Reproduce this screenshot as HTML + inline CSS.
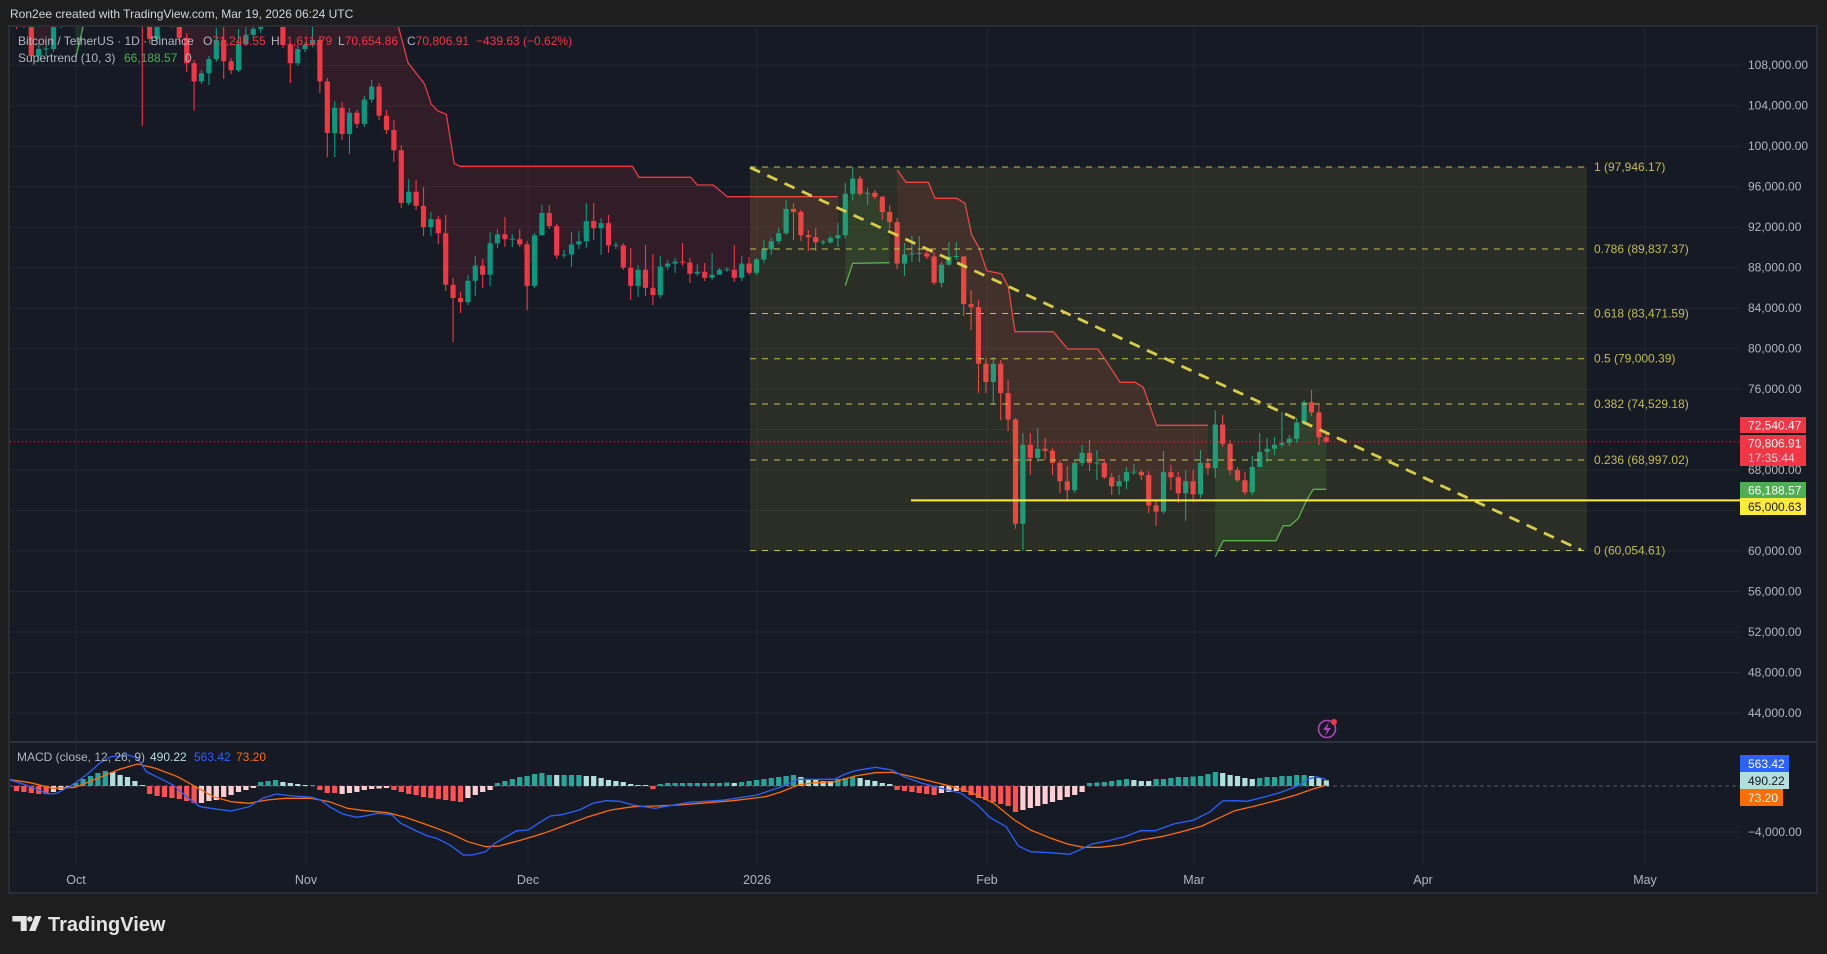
<!DOCTYPE html>
<html><head><meta charset="utf-8">
<style>
html,body{margin:0;padding:0;background:#1e1e1e;}
body{width:1827px;height:954px;overflow:hidden;}
svg{display:block;font-family:"Liberation Sans",sans-serif;}
</style></head><body>
<svg width="1827" height="954" viewBox="0 0 1827 954" xmlns="http://www.w3.org/2000/svg">
<defs>
<clipPath id="cm"><rect x="10" y="27" width="1730" height="715"/></clipPath>
<clipPath id="cd"><rect x="10" y="743" width="1730" height="121"/></clipPath>
</defs>
<rect width="1827" height="954" fill="#1e1e1e"/>
<rect x="9" y="26" width="1808" height="867" fill="#161a25" stroke="#2f323b" stroke-width="1.5"/>
<path stroke="#232733" stroke-width="1" fill="none" d="M10 65.2H1740M10 105.7H1740M10 146.2H1740M10 186.7H1740M10 227.1H1740M10 267.6H1740M10 308.1H1740M10 348.6H1740M10 389.1H1740M10 429.6H1740M10 470.1H1740M10 510.6H1740M10 551H1740M10 591.5H1740M10 632H1740M10 672.5H1740M10 713H1740M10 832H1740M76 27V864M306 27V864M528 27V864M757 27V864M987 27V864M1194 27V864M1423 27V864M1645 27V864"/>
<line x1="9" y1="742" x2="1817" y2="742" stroke="#2e323d" stroke-width="2"/>

<g clip-path="url(#cm)">
<!-- supertrend fills -->
<g fill="rgba(242,54,69,0.12)">
<polygon points="16.5,-100 68.3,-100 68.3,3 60.9,12.6 53.5,36.4 46.1,49 38.7,52.6 31.3,33.9 23.9,18.2 16.5,21.2"/>
<polygon points="142.3,-100 379.1,-100 386.5,-20 398.7,27.7 408,62.7 424.7,84.3 431.3,104.3 438,111 446.3,114.3 454.3,163.5 460,166.3 632.3,166.3 639,177.3 690.7,177.3 697.3,185 713.3,185 727.3,196.7 837.9,196.7 837.9,236.8 830.5,240.3 823.1,242.3 815.7,239.8 808.3,236.3 800.9,223.6 793.5,210.5 786.1,221.1 778.7,237.3 771.3,245.4 763.9,254.5 756.5,266.1 749.1,268.2 741.7,270.7 734.3,273.8 726.9,269.7 719.5,272.2 712.1,276.3 704.7,274.8 697.3,272.7 689.9,268.2 682.5,262.1 675.1,262.6 667.7,265.1 660.3,280.8 652.9,291.5 645.5,278.8 638.1,277.8 630.7,276.8 623.3,256.5 615.9,245.4 608.5,234.3 601.1,225.7 593.7,224.7 586.3,231.2 578.9,242.9 571.5,249.5 564.1,255 556.7,240.8 549.3,219.6 541.9,224.1 534.5,260.6 527.1,265.2 519.7,241.9 512.3,239.3 504.9,236.8 497.5,238.8 490.1,259 482.7,270.2 475.3,273.2 467.9,291.5 460.5,300.1 453.1,291.4 445.7,259 438.3,226.2 430.9,223.1 423.5,216.5 416.1,198.8 408.7,197.3 401.3,176.6 393.9,140.1 386.5,122.9 379.1,101.2 371.7,93.1 364.3,111.8 356.9,118.4 349.5,123.4 342.1,120.9 334.7,120.4 327.3,107.2 319.9,60.7 312.5,42.5 305.1,47 297.7,56.1 290.3,54.1 282.9,30.3 275.5,9.5 268.1,1.4 260.7,14.1 253.3,31.8 245.9,39.4 238.5,57.1 231.1,65.8 223.7,50.6 216.3,49.5 208.9,66.2 201.5,77.4 194.1,72.3 186.7,50.6 179.3,26.3 171.9,3 164.5,-8.2 157.1,15.6 149.7,25.8 142.3,-30.5"/>
<polygon points="897.1,170 906,182.3 928.3,182.3 935,198.3 956.7,198.3 965,203.3 971.7,235 979.3,248.3 986.7,270.7 1001.7,274 1008.3,286.7 1015,331.7 1053.3,331.7 1067.7,349 1097.7,349 1106.7,361.7 1120,382.3 1135,382.3 1143.3,387.3 1156.7,425.3 1207.9,425.3 1207.9,465.6 1200.5,478.7 1193.1,487.8 1185.7,487.3 1178.3,485.3 1170.9,474.7 1163.5,491.9 1156.1,508.6 1148.7,490.3 1141.3,473.6 1133.9,472.1 1126.5,476.7 1119.1,483.8 1111.7,481.8 1104.3,470.1 1096.9,463 1089.5,458 1082.1,458 1074.7,476.7 1067.3,485.8 1059.9,472.1 1052.5,456.9 1045.1,449.8 1037.7,453.4 1030.3,451.4 1022.9,484.3 1015.5,471.6 1008.1,406.3 1000.7,378.5 993.3,372.9 985.9,372.9 978.5,335.5 971.1,305.6 963.7,280.3 956.3,256.5 948.9,260.6 941.5,273.7 934.1,269.7 926.7,255 919.3,253.5 911.9,254 904.5,259.1 897.1,242.9"/>
</g>
<g fill="rgba(76,175,80,0.14)">
<polygon points="75.7,58 83.1,27 90.5,-10 134.9,-40 134.9,-60 75.7,-19"/>
<polygon points="845.3,285.7 852.7,263.3 889.7,262.7 889.7,217.1 882.3,204.4 874.9,194.8 867.5,193.2 860.1,186.2 852.7,186.2 845.3,214.5"/>
<polygon points="1215.3,556.7 1223.3,540.7 1276,540.7 1283.3,525.7 1290,525.7 1298.3,518.3 1306.7,500 1313.3,489.3 1326.3,489.3 1326.3,439.5 1318.9,424.8 1311.5,407.4 1304.1,412.4 1296.7,430.6 1289.3,440.7 1281.9,443.8 1274.5,446.8 1267.1,450.4 1259.7,459.5 1252.3,479.7 1244.9,486.3 1237.5,475.2 1230.1,457 1222.7,434.2 1215.3,446.3"/>
</g>

<!-- candles -->
<path fill="none" stroke="#089981" stroke-width="1.1" d="M23.9 0V28M38.7 44V62M46.1 44V56M53.5 18V52M60.9 0V28M157.1 0V42M201.5 70V84M208.9 56V85M216.3 28V62M238.5 29V72M245.9 26V46M253.3 24V38M260.7 0V33M297.7 45V66M305.1 42V52M312.5 26V47M334.7 101V157M349.5 108V154M364.3 96V127M371.7 80V103M408.7 179V205M430.9 212V236M467.9 275V305M475.3 256V296M490.1 232V286M497.5 229V248M512.3 234V247M534.5 233V288M541.9 205V235M564.1 250V258M571.5 232V267M578.9 231V249M586.3 203V248M601.1 218V255M615.9 242V249M638.1 265V297M660.3 256V298M667.7 260V270M675.1 258V273M697.3 264V276M712.1 253V280M719.5 268V274M726.9 267V272M741.7 256V281M756.5 258V275M763.9 240V263M771.3 238V255M778.7 228V244M786.1 200V235M823.1 240V245M830.5 236V244M837.9 223V247M845.3 183V238M852.7 167V200M867.5 188V205M904.5 243V276M911.9 236V262M919.3 236V262M941.5 262V287M948.9 242V266M956.3 242V260M993.3 357V405M1022.9 433V550.5M1037.7 428V462M1074.7 460V493M1082.1 445V466M1096.9 450V480M1119.1 475V495M1126.5 467V489M1133.9 464V475M1163.5 451V514M1185.7 470V520.7M1200.5 450V498M1215.3 410.4V478M1252.3 456V495M1259.7 433V467M1267.1 438V462M1274.5 437V455M1281.9 412V447M1289.3 435V446M1296.7 418V443M1304.1 400V425"/>
<path fill="none" stroke="#f23645" stroke-width="1.1" d="M16.5 10V29M31.3 0V60M142.3 0V125.9M149.7 0V44M171.9 0V28M179.3 10V42M186.7 33V72M194.1 60V110.7M223.7 14V79M231.1 58V74M275.5 0V26M282.9 5V48M290.3 42V83M319.9 36V93M327.3 78V157.3M342.1 102V140M356.9 110V128M379.1 83V120M386.5 110V134M393.9 120V162M401.3 145V208M416.1 180V210M423.5 187V236M438.3 216V244M445.7 215V291M453.1 278V342.5M460.5 292V313M482.7 259V288M504.9 217V247M519.7 229V247M527.1 241V310.2M549.3 205V229M556.7 224V259M593.7 203V240M608.5 215V253M623.3 243V270M630.7 248V300M645.5 245V296M652.9 254V305M682.5 243V266M689.9 258V283M704.7 263V281M734.3 245V282M749.1 257V275M793.5 203V240M800.9 210V241M808.3 230V251M815.7 228V251M860.1 176V196M874.9 190V199M882.3 196V220M889.7 205V229M897.1 218V269M926.7 249V259M934.1 252V285M963.7 256V316M971.1 290V330M978.5 300V393M985.9 358V393M1000.7 360V420M1008.1 380V431M1015.5 418V528.8M1030.3 433V475M1045.1 438V460M1052.5 448V475M1059.9 460V493M1067.3 466V502M1089.5 440V471M1104.3 459V479M1111.7 473V495M1141.3 470V480M1148.7 471V513M1156.1 500V525.7M1170.9 465V490M1178.3 472V503M1193.1 470V502M1207.9 458V475M1222.7 415V447M1230.1 440V475M1237.5 467V482M1244.9 472V495M1311.5 390.1V416M1318.9 405V445M1326.3 433.5V443.2"/>
<path fill="none" stroke="#089981" stroke-width="5.2" d="M23.9 11.6V24.7M38.7 49V56.1M46.1 48.5V49.5M53.5 23.7V49M60.9 1.4V23.7M157.1 -8V38.9M201.5 73.3V81.4M208.9 59.1V73.3M216.3 39.9V59.1M238.5 43.9V70.3M245.9 34.8V43.9M253.3 28.8V34.8M260.7 -1V28.8M297.7 49V63.2M305.1 45V49M312.5 39.9V45M334.7 107.7V133M349.5 112.8V134M364.3 99.6V123.9M371.7 86.5V99.6M408.7 191.7V202.9M430.9 219.1V227.1M467.9 280.8V302.1M475.3 265.6V280.8M490.1 243.3V274.7M497.5 234.2V243.3M512.3 238.8V239.8M534.5 235.2V285.9M541.9 213V235.2M564.1 254.5V255.5M571.5 244.4V254.5M578.9 241.3V244.4M586.3 221.1V241.3M601.1 223.1V228.2M615.9 244.9V245.9M638.1 269.7V285.9M660.3 266.6V295M667.7 263.6V266.6M675.1 261.6V263.6M697.3 271.7V273.7M712.1 274.7V277.8M719.5 269.7V274.7M726.9 269.2V270.2M741.7 263.6V277.8M756.5 259.5V272.7M763.9 249.4V259.5M771.3 241.3V249.4M778.7 233.2V241.3M786.1 208.9V233.2M823.1 241.8V242.8M830.5 238.3V242.3M837.9 235.2V238.3M845.3 193.7V235.2M852.7 178.6V193.7M867.5 192.7V193.7M904.5 254.5V263.6M911.9 253.5V254.5M919.3 253V254M941.5 264.6V282.8M948.9 256.5V264.6M956.3 256V257M993.3 363.8V382M1022.9 444.8V523.7M1037.7 448.8V457.9M1074.7 463V490.3M1082.1 452.9V463M1096.9 462.5V463.5M1119.1 481.2V486.3M1126.5 472.1V481.2M1133.9 471.6V472.6M1163.5 472.1V511.6M1185.7 481.2V493.4M1200.5 463V494.4M1215.3 424.5V468.1M1252.3 467V492.3M1259.7 451.9V467M1267.1 448.8V451.9M1274.5 444.8V448.8M1281.9 442.7V444.8M1289.3 438.7V442.7M1296.7 422.5V438.7M1304.1 402.3V422.5"/>
<path fill="none" stroke="#f23645" stroke-width="5.2" d="M16.5 17.6V24.7M31.3 11.6V56.1M149.7 12.6V38.9M171.9 -9V14.6M179.3 14.6V37.9M186.7 37.9V63.2M194.1 63.2V81.4M223.7 39.9V61.2M231.1 61.2V70.3M275.5 -1V15.6M282.9 15.6V45M290.3 45V63.2M319.9 39.9V81.4M327.3 81.4V133M342.1 107.7V134M356.9 112.8V123.9M379.1 86.5V115.8M386.5 115.8V130M393.9 130V150.2M401.3 150.2V202.9M416.1 191.7V205.9M423.5 205.9V227.1M438.3 219.1V233.2M445.7 233.2V284.8M453.1 284.8V298M460.5 298V302.1M482.7 265.6V274.7M504.9 234.2V239.3M519.7 239.3V244.4M527.1 244.4V285.9M549.3 213V226.1M556.7 226.1V255.5M593.7 221.1V228.2M608.5 223.1V245.4M623.3 245.4V267.6M630.7 267.6V285.9M645.5 269.7V287.9M652.9 287.9V295M682.5 261.6V262.6M689.9 262.6V273.7M704.7 271.7V277.8M734.3 269.7V277.8M749.1 263.6V272.7M793.5 208.9V212M800.9 212V235.2M808.3 235.2V237.3M815.7 237.3V242.3M860.1 178.6V193.7M874.9 192.7V196.8M882.3 196.8V212M889.7 212V222.1M897.1 222.1V263.6M926.7 253.5V256.5M934.1 256.5V282.8M963.7 256.5V304.1M971.1 304.1V307.1M978.5 307.1V363.8M985.9 363.8V382M1000.7 363.8V393.1M1008.1 393.1V419.5M1015.5 419.5V523.7M1030.3 444.8V457.9M1045.1 448.8V450.8M1052.5 450.8V463M1059.9 463V481.2M1067.3 481.2V490.3M1089.5 452.9V463M1104.3 463V477.2M1111.7 477.2V486.3M1141.3 472.1V475.1M1148.7 475.1V505.5M1156.1 505.5V511.6M1170.9 472.1V477.2M1178.3 477.2V493.4M1193.1 481.2V494.4M1207.9 463V468.1M1222.7 424.5V443.8M1230.1 443.8V470.1M1237.5 470.1V480.2M1244.9 480.2V492.3M1311.5 402.3V412.4M1318.9 412.4V437.2M1326.3 437.2V441.7"/>

<!-- supertrend lines -->
<g fill="none" stroke-width="1.3">
<polyline stroke="#4caf50" points="75.7,58 83.1,27 90.5,-10"/>
<polyline stroke="#f23645" points="386.5,-20 398.7,27.7 408,62.7 424.7,84.3 431.3,104.3 438,111 446.3,114.3 454.3,163.5 460,166.3 632.3,166.3 639,177.3 690.7,177.3 697.3,185 713.3,185 727.3,196.7 837.9,196.7"/>
<polyline stroke="#4caf50" points="845.3,285.7 852.7,263.3 889.7,262.7"/>
<polyline stroke="#f23645" points="897.1,170 906,182.3 928.3,182.3 935,198.3 956.7,198.3 965,203.3 971.7,235 979.3,248.3 986.7,270.7 1001.7,274 1008.3,286.7 1015,331.7 1053.3,331.7 1067.7,349 1097.7,349 1106.7,361.7 1120,382.3 1135,382.3 1143.3,387.3 1156.7,425.3 1207.9,425.3"/>
<polyline stroke="#4caf50" points="1215.3,556.7 1223.3,540.7 1276,540.7 1283.3,525.7 1290,525.7 1298.3,518.3 1306.7,500 1313.3,489.3 1326.3,489.3"/>
</g>

<!-- fib -->
<rect x="750" y="167" width="837" height="383.5" fill="rgba(200,190,60,0.12)"/>
<g stroke="#c5bf4e" stroke-width="1" stroke-dasharray="6 6">
  <line x1="750" x2="1587" y1="167" y2="167"/>
  <line x1="750" x2="1587" y1="249" y2="249"/>
  <line x1="750" x2="1587" y1="313.5" y2="313.5"/>
  <line x1="750" x2="1587" y1="358.7" y2="358.7"/>
  <line x1="750" x2="1587" y1="404" y2="404"/>
  <line x1="750" x2="1587" y1="460" y2="460"/>
  <line x1="750" x2="1587" y1="550.5" y2="550.5"/>
</g>
<line x1="750" y1="167.5" x2="1581" y2="550" stroke="#d9cd47" stroke-width="2.8" stroke-dasharray="11 8"/>
<line x1="911" y1="500.4" x2="1740" y2="500.4" stroke="#ffeb3b" stroke-width="2"/>
<line x1="10" y1="441.7" x2="1740" y2="441.7" stroke="#f23645" stroke-width="1" stroke-dasharray="1 3"/>
</g>

<!-- MACD -->
<line x1="10" y1="786" x2="1740" y2="786" stroke="#787b86" stroke-width="1" stroke-dasharray="4 3" opacity="0.7"/>
<g clip-path="url(#cd)" fill="none">
<path stroke="#26a69a" stroke-width="5.2" d="M75.7 786V783M83.1 786V779M90.5 786V776M97.9 786V773M105.3 786V771M260.7 786V782M268.1 786V781M275.5 786V780M497.5 786V783M504.9 786V781M512.3 786V779M519.7 786V777M527.1 786V776M534.5 786V774M541.9 786V773M549.3 786V775M564.1 786V775M571.5 786V775M578.9 786V775M660.3 786V784M667.7 786V783M675.1 786V783M682.5 786V783M689.9 786V783M697.3 786V783M704.7 786V783M712.1 786V783M719.5 786V783M726.9 786V782.5M741.7 786V782M749.1 786V781M756.5 786V780M763.9 786V779M771.3 786V778M778.7 786V777M786.1 786V776M793.5 786V775M837.9 786V779M845.3 786V778M852.7 786V777M1089.5 786V783M1096.9 786V782.5M1104.3 786V782M1111.7 786V781M1119.1 786V780M1126.5 786V779M1156.1 786V779M1163.5 786V779M1170.9 786V778M1178.3 786V777M1185.7 786V777M1193.1 786V776.5M1200.5 786V776M1207.9 786V774M1215.3 786V772M1259.7 786V778M1267.1 786V777M1274.5 786V777M1281.9 786V776M1289.3 786V776M1296.7 786V775M1304.1 786V775"/>
<path stroke="#b2dfdb" stroke-width="5.2" d="M112.7 786V772M120.1 786V775M127.5 786V777M134.9 786V781M142.3 786V785M282.9 786V782M290.3 786V783M297.7 786V784M305.1 786V785M312.5 786V785.5M556.7 786V775M586.3 786V776M593.7 786V776M601.1 786V778M608.5 786V780M615.9 786V781M623.3 786V782M630.7 786V784M638.1 786V785M645.5 786V785M734.3 786V783M800.9 786V777M808.3 786V779M815.7 786V780M823.1 786V781M830.5 786V781M860.1 786V778M867.5 786V780M874.9 786V781M882.3 786V783M889.7 786V784M1133.9 786V780M1141.3 786V781M1148.7 786V781M1222.7 786V773M1230.1 786V775M1237.5 786V776M1244.9 786V778M1252.3 786V779M1311.5 786V776M1318.9 786V778M1326.3 786V780.4"/>
<path stroke="#ff5252" stroke-width="5.2" d="M16.5 786V791M23.9 786V792M31.3 786V793M38.7 786V794M46.1 786V794M149.7 786V794M157.1 786V796M164.5 786V797M171.9 786V798M179.3 786V799M186.7 786V801M194.1 786V803M319.9 786V790M327.3 786V793M334.7 786V793M393.9 786V790M401.3 786V792M408.7 786V794M416.1 786V795M423.5 786V797M430.9 786V798M438.3 786V799M445.7 786V800M453.1 786V801M460.5 786V802M652.9 786V789M897.1 786V790M904.5 786V791M911.9 786V792M919.3 786V793M926.7 786V794M934.1 786V795M963.7 786V792M971.1 786V795M978.5 786V798M985.9 786V800M993.3 786V802M1000.7 786V804M1008.1 786V806M1015.5 786V812"/>
<path stroke="#ffcdd2" stroke-width="5.2" d="M53.5 786V792M60.9 786V790M68.3 786V788M201.5 786V803M208.9 786V801M216.3 786V800M223.7 786V797M231.1 786V795M238.5 786V792M245.9 786V790M253.3 786V788M342.1 786V794M349.5 786V793M356.9 786V792M364.3 786V790M371.7 786V789M379.1 786V788.5M386.5 786V788M467.9 786V798M475.3 786V795M482.7 786V792M490.1 786V790M941.5 786V793M948.9 786V792M956.3 786V791M1022.9 786V810M1030.3 786V808M1037.7 786V806M1045.1 786V804M1052.5 786V802M1059.9 786V800M1067.3 786V797M1074.7 786V795M1082.1 786V792"/>
<polyline stroke="#ff6d00" stroke-width="1.3" points="8,779.3 30.3,782.7 52.6,788.3 75,787.3 97.3,778.3 119.6,769.3 137.5,764 155.3,768.3 177.6,776.7 195.5,786.7 213.4,796.7 231.2,801.7 249.1,803.3 266.9,800 284.8,798.3 311.6,798.3 329.4,801.7 347.3,808.3 365.1,810.7 387.5,812.7 405.3,817.3 427.6,825 450,833.3 467.8,841.7 485.7,846.7 499.1,846 521.4,840 543.7,833.3 566,825 588.4,816.7 610.7,810 633,806.7 655.3,806 677.6,805 700,803.3 732.7,800.7 765.3,796.7 781.6,791.7 798,785 814.3,782.7 834.7,781.7 855.1,776 875.5,772.7 891.8,772.3 912.2,776.7 932.7,781.7 953.1,786.7 973.5,793.3 993.9,803.3 1014.3,820 1030.6,830 1051,838.3 1067.3,844 1083.7,847.3 1100,847.3 1120.4,845 1140.8,840 1161.2,836.7 1181.6,831.7 1202,826 1218.4,818.3 1234.7,810.7 1255.1,806 1275.5,800.7 1295.9,795 1312.2,789.3 1326.3,785.2"/>
<polyline stroke="#2962ff" stroke-width="1.3" points="8,779.3 25.9,785 48.2,794 57.1,793.3 75,783.3 88.4,773.3 99.5,763.3 110.7,756.7 128.5,755 137.5,758.3 146.4,771.7 159.8,778.3 173.2,785 186.6,796.7 200,806.7 217.8,809.3 231.2,811 249.1,806.7 262.5,798.3 275.9,794 293.7,796 311.6,797.3 320.5,800 329.4,806.7 342.8,814 356.2,817.3 365.1,816 378.5,813.3 391.9,815 400.9,823.3 414.3,830 427.6,836 436.6,838.3 450,845 458.9,851.7 463.4,855 472.3,855 485.7,851.7 494.6,843.3 503.5,838.3 516.9,830.7 528.1,830 539.3,822.7 550.4,816 561.6,814.7 579.4,810 592.9,803.3 606.3,800.7 619.6,801.3 633,805 655.3,808.3 673.2,805 691,802 700,801.7 724.5,800 757.1,795 781.6,786.7 798,779.3 834.7,779.3 842.9,775 855.1,770.7 875.5,767.3 891.8,770 904.1,776.7 920.4,782.7 944.9,789.3 961.2,793.3 977.6,805 989.8,817.3 1006.1,826.7 1018.4,846 1030.6,851.7 1051,852.7 1069.4,854.3 1079.6,850 1091.8,844 1108.2,840.7 1124.5,836.7 1140.8,830.7 1155.1,830.7 1173.5,824 1193.9,820 1210.2,811.7 1222.4,801 1234.7,800.7 1246.9,801.3 1263.3,797.3 1279.6,792.7 1295.9,786.7 1308.2,779.3 1316.3,776.7 1326.3,779.5"/>
</g>

<!-- fib labels -->
<g font-size="12" fill="#c2bc52">
<text x="1594" y="171">1 (97,946.17)</text>
<text x="1594" y="253">0.786 (89,837.37)</text>
<text x="1594" y="317.5">0.618 (83,471.59)</text>
<text x="1594" y="362.7">0.5 (79,000.39)</text>
<text x="1594" y="408">0.382 (74,529.18)</text>
<text x="1594" y="464">0.236 (68,997.02)</text>
<text x="1594" y="554.5">0 (60,054.61)</text>
</g>

<!-- price axis -->
<g font-size="12" fill="#b2b5be">
<text x="1748" y="69.2">108,000.00</text>
<text x="1748" y="109.7">104,000.00</text>
<text x="1748" y="150.2">100,000.00</text>
<text x="1748" y="190.7">96,000.00</text>
<text x="1748" y="231.1">92,000.00</text>
<text x="1748" y="271.6">88,000.00</text>
<text x="1748" y="312.1">84,000.00</text>
<text x="1748" y="352.6">80,000.00</text>
<text x="1748" y="393.1">76,000.00</text>
<text x="1748" y="474.1">68,000.00</text>
<text x="1748" y="555">60,000.00</text>
<text x="1748" y="595.5">56,000.00</text>
<text x="1748" y="636">52,000.00</text>
<text x="1748" y="676.5">48,000.00</text>
<text x="1748" y="717">44,000.00</text>
<text x="1748" y="836">−4,000.00</text>
</g>
<g font-size="12">
<rect x="1740" y="417" width="66" height="16" fill="#f23645"/>
<text x="1748" y="429.5" fill="#ffffff">72,540.47</text>
<rect x="1740" y="435" width="66" height="31" fill="#f23645"/>
<text x="1748" y="447.5" fill="#ffffff">70,806.91</text>
<text x="1748" y="462" fill="#ffd3d7">17:35:44</text>
<rect x="1740" y="482" width="66" height="16" fill="#4caf50"/>
<text x="1748" y="494.5" fill="#ffffff">66,188.57</text>
<rect x="1740" y="498" width="66" height="17" fill="#ffeb3b"/>
<text x="1748" y="511" fill="#131722">65,000.63</text>
<rect x="1740" y="755" width="49" height="17" fill="#2962ff"/>
<text x="1748" y="768" fill="#ffffff">563.42</text>
<rect x="1740" y="772" width="49" height="17" fill="#b2dfdb"/>
<text x="1748" y="785" fill="#131722">490.22</text>
<rect x="1740" y="789" width="43" height="17" fill="#ff6d00"/>
<text x="1748" y="802" fill="#ffffff">73.20</text>
</g>

<!-- time axis -->
<g font-size="12.5" fill="#b2b5be" text-anchor="middle">
<text x="76" y="884">Oct</text>
<text x="306" y="884">Nov</text>
<text x="528" y="884">Dec</text>
<text x="757" y="884">2026</text>
<text x="987" y="884">Feb</text>
<text x="1194" y="884">Mar</text>
<text x="1423" y="884">Apr</text>
<text x="1645" y="884">May</text>
</g>

<!-- header / legends -->
<text x="10" y="18" font-size="12" fill="#d1d4dc">Ron2ee created with TradingView.com, Mar 19, 2026 06:24 UTC</text>
<g font-size="12">
<text x="18" y="45" fill="#b2b5be">Bitcoin / TetherUS · 1D · Binance</text>
<text x="203" y="45" fill="#b2b5be">O<tspan fill="#f23645">71,246.55</tspan></text>
<text x="271" y="45" fill="#b2b5be">H<tspan fill="#f23645">71,611.79</tspan></text>
<text x="338" y="45" fill="#b2b5be">L<tspan fill="#f23645">70,654.86</tspan></text>
<text x="407" y="45" fill="#b2b5be">C<tspan fill="#f23645">70,806.91</tspan></text>
<text x="476" y="45" fill="#f23645">−439.63 (−0.62%)</text>
<text x="18" y="62" fill="#b2b5be">Supertrend (10, 3)</text>
<text x="124" y="62" fill="#4caf50">66,188.57</text>
<text x="185" y="62" fill="#b2b5be">0</text>
<text x="17" y="761" fill="#b2b5be">MACD (close, 12, 26, 9)</text>
<text x="150" y="761" fill="#b2dfdb">490.22</text>
<text x="194" y="761" fill="#2962ff">563.42</text>
<text x="236" y="761" fill="#ff6d00">73.20</text>
</g>

<!-- lightning icon -->
<circle cx="1327" cy="729" r="8.5" fill="none" stroke="#ab47bc" stroke-width="1.6"/>
<path d="M1329 722 L1323 730 L1327 730 L1325 736 L1331 728 L1327 728 Z" fill="#ab47bc"/>
<circle cx="1334" cy="722" r="3" fill="#f23645"/>

<!-- logo -->
<g fill="#e3e3e3">
<path d="M12.3 916 H26.7 V931 H20.7 V921.5 H12.3 Z"/>
<circle cx="29.8" cy="919" r="2.7"/>
<polygon points="35,916 41.3,916 35.5,931 29,931"/>
<text x="48" y="931" font-size="20" font-weight="bold">TradingView</text>
</g>
</svg>
</body></html>
